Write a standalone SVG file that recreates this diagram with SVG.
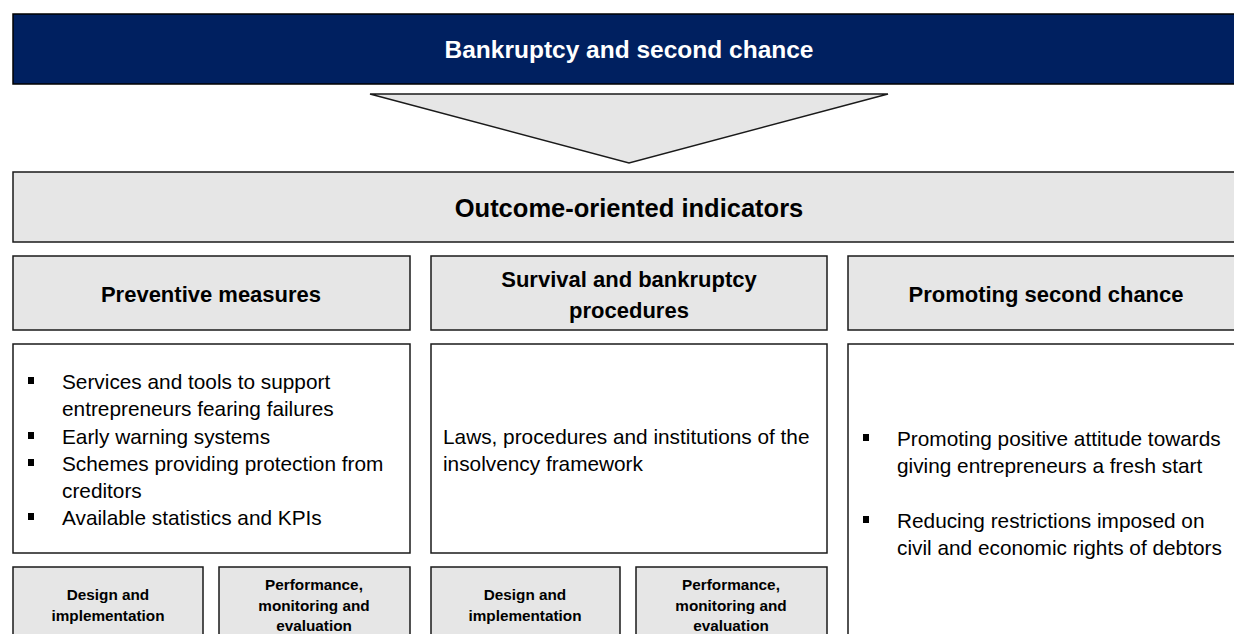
<svg xmlns="http://www.w3.org/2000/svg" width="1234" height="634" viewBox="0 0 1234 634">
<style>
.box{fill:#e6e6e6;stroke:#1a1a1a;stroke-width:1.5}
.wbox{fill:#ffffff;stroke:#1a1a1a;stroke-width:1.5}
text{font-family:"Liberation Sans",Arial,sans-serif;fill:#000}
.h1{font-size:24.5px;font-weight:bold;text-anchor:middle}
.h2{font-size:22px;font-weight:bold;text-anchor:middle}
.body{font-size:20.8px}
.small{font-size:15.3px;font-weight:bold;text-anchor:middle}
.bul{fill:#000}
</style>
<rect width="1234" height="634" fill="#ffffff"/>
<g id="title">
<rect x="13" y="14" width="1230" height="70" fill="#002060" stroke="#000" stroke-width="1.5"/>
<text class="h1" x="629" y="58" style="fill:#ffffff">Bankruptcy and second chance</text>
</g>
<g id="connectors">
<polygon points="370,94 888,94 629,163" class="box"/>
</g>
<g id="outcome">
<rect class="box" x="13" y="172" width="1230" height="70"/>
<text class="h1" x="629" y="217" style="font-size:25.5px">Outcome-oriented indicators</text>
</g>
<g id="preventive">
<rect class="box" x="13" y="256" width="397" height="74"/>
<text class="h2" x="211" y="302">Preventive measures</text>
</g>
<g id="survival">
<rect class="box" x="431" y="256" width="396" height="74"/>
<text class="h2" x="629" y="287">Survival and bankruptcy</text>
<text class="h2" x="629" y="318">procedures</text>
</g>
<g id="promoting">
<rect class="box" x="848" y="256" width="395" height="74"/>
<text class="h2" x="1046" y="302">Promoting second chance</text>
</g>
<g id="preventive-list">
<rect class="wbox" x="13" y="344" width="397" height="209"/>
<rect class="bul" x="28" y="377" width="6" height="7"/>
<text class="body" x="62" y="389">Services and tools to support</text>
<text class="body" x="62" y="416">entrepreneurs fearing failures</text>
<rect class="bul" x="28" y="432" width="6" height="7"/>
<text class="body" x="62" y="444">Early warning systems</text>
<rect class="bul" x="28" y="459" width="6" height="7"/>
<text class="body" x="62" y="471">Schemes providing protection from</text>
<text class="body" x="62" y="498">creditors</text>
<rect class="bul" x="28" y="513" width="6" height="7"/>
<text class="body" x="62" y="525">Available statistics and KPIs</text>
</g>
<g id="survival-list">
<rect class="wbox" x="431" y="344" width="396" height="209"/>
<text class="body" x="443" y="444">Laws, procedures and institutions of the</text>
<text class="body" x="443" y="471">insolvency framework</text>
</g>
<g id="promoting-list">
<rect class="wbox" x="848" y="344" width="395" height="300"/>
<rect class="bul" x="863" y="434" width="6" height="7"/>
<text class="body" x="897" y="446">Promoting positive attitude towards</text>
<text class="body" x="897" y="473">giving entrepreneurs a fresh start</text>
<rect class="bul" x="863" y="516" width="6" height="7"/>
<text class="body" x="897" y="528">Reducing restrictions imposed on</text>
<text class="body" x="897" y="555">civil and economic rights of debtors</text>
</g>
<g id="design1">
<rect class="box" x="13" y="567" width="190" height="80"/>
<text class="small" x="108" y="600">Design and</text>
<text class="small" x="108" y="621">implementation</text>
</g>
<g id="perf1">
<rect class="box" x="219" y="567" width="191" height="80"/>
<text class="small" x="314" y="590">Performance,</text>
<text class="small" x="314" y="611">monitoring and</text>
<text class="small" x="314" y="631">evaluation</text>
</g>
<g id="design2">
<rect class="box" x="431" y="567" width="189" height="80"/>
<text class="small" x="525" y="600">Design and</text>
<text class="small" x="525" y="621">implementation</text>
</g>
<g id="perf2">
<rect class="box" x="636" y="567" width="191" height="80"/>
<text class="small" x="731" y="590">Performance,</text>
<text class="small" x="731" y="611">monitoring and</text>
<text class="small" x="731" y="631">evaluation</text>
</g>
</svg>
